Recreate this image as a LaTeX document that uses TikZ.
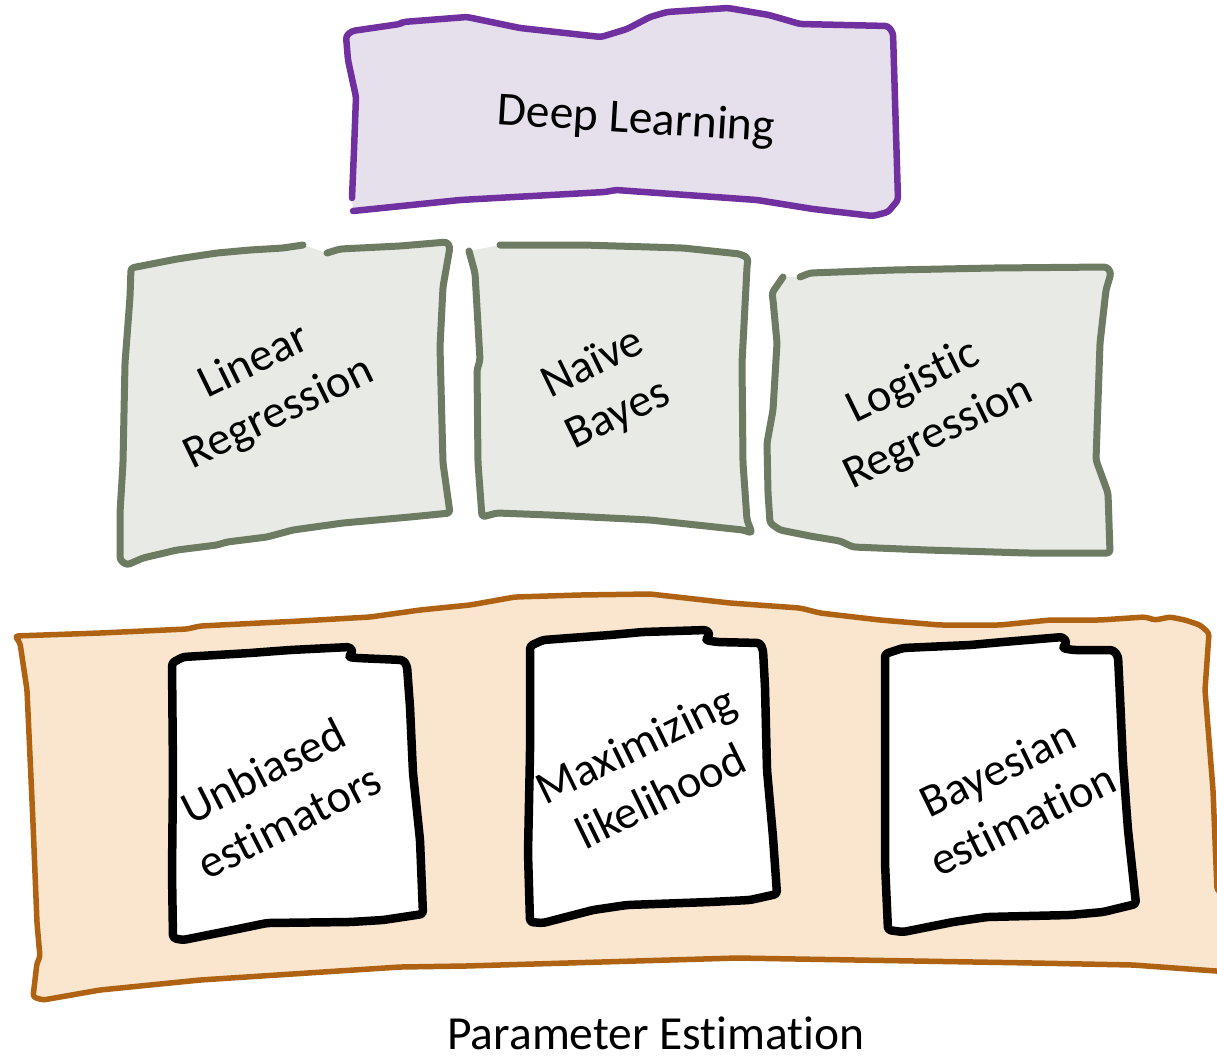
\documentclass[tikz,border=0pt]{standalone}
\usepackage{fontspec}
\setmainfont{Carlito}[Ligatures={NoCommon,NoRare}]
\definecolor{dlpurple}{HTML}{7030A0}
\definecolor{dlfill}{HTML}{E6E0EC}
\definecolor{mlgreen}{HTML}{6D7B62}
\definecolor{mlfill}{HTML}{E8EAE5}
\definecolor{peorange}{HTML}{AE6212}
\definecolor{pefill}{HTML}{FAE6CF}
\tikzset{
  sketch/.style={line join=round, line cap=round, rounded corners=3pt},
  dlbox/.style={sketch, draw=dlpurple, fill=dlfill, line width=6.5pt},
  mlbox/.style={sketch, draw=mlgreen, fill=mlfill, line width=7pt},
  pebox/.style={sketch, draw=peorange, fill=pefill, line width=5.5pt},
  methbox/.style={sketch, draw=black, fill=white, line width=8.5pt},
  lbl/.style={align=center, inner sep=0pt, font=\fontsize{46.5}{57}\selectfont},
  biglbl/.style={inner sep=0pt, font=\fontsize{47.5}{57}\selectfont}
}
\begin{document}
\begin{tikzpicture}[x=1pt,y=-1pt]
\useasboundingbox (0,0) rectangle (1217,1058);
\clip (0,0) rectangle (1217,1058);

% ---- top level: deep learning ----
\path[dlbox] (352,198) -- (354,150) -- (356,97) -- (348,60) -- (346,36) -- (352,31)
  -- (400,24) -- (403,22) -- (467,17) -- (520,28) -- (601,37) -- (627,29) -- (650,17)
  -- (667,12) -- (728,8) -- (769,15) -- (800,24) -- (888,26) -- (893,33)
  -- (895,100) -- (898,200) -- (888,212) -- (873,216) -- (813,209) -- (757,200)
  -- (616,190) -- (605,192) -- (460,200) -- (353,211);
\node[biglbl, rotate=-3.5] (deep) at (636,121) {Deep Learning};

% ---- middle level: three models ----
\path[mlbox] (327,253) -- (340,249) -- (400,246) -- (447,242) -- (450,247)
  -- (443,287) -- (440,347) -- (443,463) -- (450,513) -- (410,517) -- (343,523)
  -- (293,530) -- (267,537) -- (227,542) -- (217,545) -- (177,550) -- (143,558)
  -- (127,565) -- (120,560) -- (120,513) -- (123,463) -- (125,363) -- (130,297)
  -- (131,268) -- (177,259) -- (217,253) -- (250,250) -- (283,248) -- (303,245);
\node[lbl, rotate=26] (linreg) at (267,388) {Linear\\Regression};

\path[mlbox] (500,245) -- (583,245) -- (683,248) -- (740,254) -- (748,258)
  -- (747,267) -- (742,363) -- (743,463) -- (747,520) -- (752,533) -- (743,530)
  -- (650,520) -- (550,515) -- (497,513) -- (482,517) -- (478,463) -- (477,370)
  -- (480,360) -- (475,273) -- (469,251);
\node[lbl, rotate=26] (naive) at (606,390) {Naïve\\Bayes};

\path[mlbox] (800,277) -- (810,273) -- (893,270) -- (993,268) -- (1107,267)
  -- (1111,273) -- (1106,290) -- (1100,343) -- (1096,460) -- (1108,493)
  -- (1110,553) -- (1027,553) -- (927,550) -- (853,547) -- (840,541) -- (810,536)
  -- (780,530) -- (770,523) -- (768,493) -- (767,443) -- (773,410) -- (777,343)
  -- (773,300) -- (772,293) -- (783,277);
\node[lbl, rotate=26] (logreg) at (926,408) {Logistic\\Regression};

% ---- bottom level: parameter estimation ----
\path[pebox] (37,963) -- (33,997) -- (43,1000) -- (100,990) -- (200,980)
  -- (400,967) -- (466,966) -- (737,958) -- (1033,963) -- (1133,965) -- (1230,972)
  -- (1230,900) -- (1217,890) -- (1213,790) -- (1205,690) -- (1209,633)
  -- (1200,625) -- (1185,620) -- (1170,617) -- (1155,620) -- (1145,617)
  -- (1100,620) -- (1050,620) -- (1000,625) -- (940,625) -- (880,620) -- (820,613)
  -- (800,608) -- (730,603) -- (650,594) -- (580,595) -- (515,597) -- (470,605)
  -- (420,610) -- (370,617) -- (300,621) -- (200,626) -- (187,629) -- (100,633)
  -- (15,636) -- (20,643) -- (27,690) -- (33,823) -- (37,923) -- (40,957) -- cycle;

\path[methbox] (172,663) -- (183,657) -- (250,653) -- (290,650) -- (350,647)
  -- (353,652) -- (348,657) -- (357,658) -- (403,660) -- (407,666) -- (410,707)
  -- (413,773) -- (420,840) -- (423,914) -- (383,920) -- (350,922) -- (267,923)
  -- (233,930) -- (183,940) -- (173,938) -- (172,873) -- (173,773) -- cycle;
\node[lbl, rotate=27] (unb) at (276,796) {Unbiased\\estimators};

\path[methbox] (530,646) -- (543,640) -- (610,635) -- (643,632) -- (707,630)
  -- (710,635) -- (705,640) -- (717,642) -- (760,643) -- (763,650) -- (765,687)
  -- (767,770) -- (773,837) -- (777,894) -- (750,900) -- (710,902) -- (627,905)
  -- (593,910) -- (543,923) -- (530,922) -- (528,853) -- (530,753) -- cycle;
\node[lbl, rotate=26] (mle) at (648,770) {Maximizing\\likelihood};

\path[methbox] (885,654) -- (903,648) -- (970,645) -- (1003,642) -- (1063,637)
  -- (1067,643) -- (1062,648) -- (1073,650) -- (1113,650) -- (1118,656)
  -- (1120,697) -- (1123,763) -- (1128,830) -- (1136,904) -- (1103,912)
  -- (1070,915) -- (987,917) -- (953,922) -- (903,932) -- (888,930) -- (885,863)
  -- (885,763) -- cycle;
\node[lbl, rotate=26] (bayes) at (1010,794) {Bayesian\\estimation};

\node[biglbl, anchor=base] (pest) at (656,1049) {Parameter Estimation};
\end{tikzpicture}
\end{document}
